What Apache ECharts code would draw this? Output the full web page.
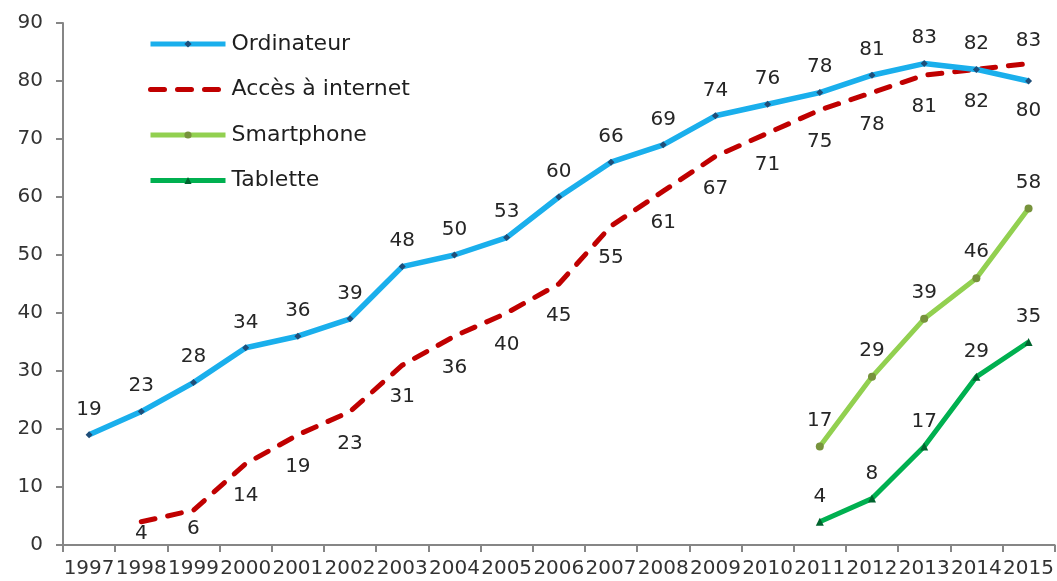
<!DOCTYPE html>
<html>
<head>
<meta charset="utf-8">
<script src="https://cdn.jsdelivr.net/npm/echarts@6/dist/echarts.min.js"></script>
<style>html,body{margin:0;padding:0;background:#fff}#c{width:1057px;height:581px}</style>
</head>
<body>
<div id="c"></div>
<script>
var years = ['1997','1998','1999','2000','2001','2002','2003','2004','2005','2006','2007','2008','2009','2010','2011','2012','2013','2014','2015'];
var ordinateur = [19,23,28,34,36,39,48,50,53,60,66,69,74,76,78,81,83,82,80];
var internet = [null,4,6,14,19,23,31,36,40,45,55,61,67,71,75,78,81,82,83];
var smartphone = [null,null,null,null,null,null,null,null,null,null,null,null,null,null,17,29,39,46,58];
var tablette = [null,null,null,null,null,null,null,null,null,null,null,null,null,null,4,8,17,29,35];
var seriesNames = ['Ordinateur','Accès à internet','Smartphone','Tablette'];

var FONT = 'DejaVu Sans';
var labelStyle = {fontFamily: FONT, fontSize: 20, color: '#262626'};

function withLabels(arr, overrides) {
  return arr.map(function (v, i) {
    if (v === null) return null;
    if (overrides && overrides[i]) return {value: v, label: overrides[i]};
    return v;
  });
}

var option = {
  animation: false,
  grid: {left: 63, right: 2, top: 23, bottom: 36},
  legend: {
    orient: 'vertical', left: 148, top: 33, padding: 0,
    itemWidth: 75, itemHeight: 9, itemGap: 23.5,
    lineStyle: {width: 5},
    textStyle: {fontFamily: FONT, fontSize: 22, color: '#1f1f1f', padding: [0, 0, 0, 1]},
    data: seriesNames
  },
  xAxis: {
    type: 'category', data: years, boundaryGap: true,
    axisLine: {lineStyle: {color: '#868686', width: 2}},
    axisTick: {show: true, length: 7, lineStyle: {color: '#868686', width: 2}},
    axisLabel: {interval: 0, fontFamily: FONT, fontSize: 20, color: '#333', margin: 14}
  },
  yAxis: {
    type: 'value', min: 0, max: 90, interval: 10,
    splitLine: {show: false},
    axisLine: {show: true, lineStyle: {color: '#868686', width: 2}},
    axisTick: {show: true, length: 7, lineStyle: {color: '#868686', width: 2}},
    axisLabel: {fontFamily: FONT, fontSize: 20, color: '#333', margin: 20}
  },
  series: [
    {
      name: seriesNames[0], type: 'line', data: withLabels(ordinateur, {18: {position: 'bottom', distance: 16}}),
      symbol: 'diamond', symbolSize: 7, showAllSymbol: true,
      lineStyle: {color: '#1AAFEC', width: 5.5},
      itemStyle: {color: '#1F4E79'},
      label: Object.assign({show: true, position: 'top', distance: 12}, labelStyle),
      z: 3
    },
    {
      name: seriesNames[1], type: 'line', data: withLabels(internet, {1: {distance: 1}, 2: {distance: 8}, 18: {position: 'top', distance: 12}}),
      symbol: 'circle', symbolSize: 2, showAllSymbol: true,
      lineStyle: {color: '#C00000', width: 5, type: [14, 13], cap: 'round'},
      itemStyle: {color: 'rgba(0,0,0,0)'},
      label: Object.assign({show: true, position: 'bottom', distance: 21}, labelStyle),
      z: 2
    },
    {
      name: seriesNames[2], type: 'line', data: withLabels(smartphone),
      symbol: 'circle', symbolSize: 8, showAllSymbol: true,
      lineStyle: {color: '#92D050', width: 5},
      itemStyle: {color: '#77933C'},
      label: Object.assign({show: true, position: 'top', distance: 12}, labelStyle)
    },
    {
      name: seriesNames[3], type: 'line', data: withLabels(tablette),
      symbol: 'triangle', symbolSize: 8, showAllSymbol: true,
      lineStyle: {color: '#00B050', width: 5},
      itemStyle: {color: '#00642E'},
      label: Object.assign({show: true, position: 'top', distance: 11}, labelStyle)
    }
  ]
};
var chart = echarts.init(document.getElementById('c'));
chart.setOption(option);
</script>
</body>
</html>
